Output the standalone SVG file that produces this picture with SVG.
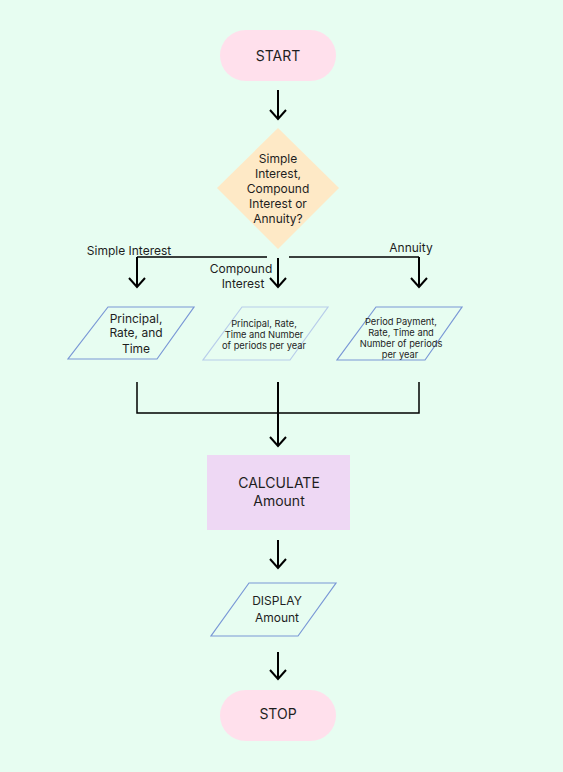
<svg xmlns="http://www.w3.org/2000/svg" width="563" height="772" viewBox="0 0 563 772">
<style>
text{font-family:Inter,"Liberation Sans",sans-serif;fill:#1e1e1e;text-anchor:middle}
.t14{font-size:14px}
.t12{font-size:12px}
.t9{font-size:9.3px}
.con{fill:none;stroke:#000;stroke-width:1.5}
.arr{fill:none;stroke:#000;stroke-width:2}
.io{fill:none;stroke:#7a98d6;stroke-width:1.2}
.io2{fill:none;stroke:#b8cdea;stroke-width:1.2}
</style>
<defs>
<marker id="ah" markerUnits="userSpaceOnUse" markerWidth="20" markerHeight="20" viewBox="-12 -10 14 20" refX="0" refY="0" orient="auto">
<path d="M-9,-8 L0,0 L-9,8" fill="none" stroke="#000" stroke-width="2"/>
</marker>
</defs>
<rect width="563" height="772" fill="#e7fdf1"/>
<g id="connectors">
<line class="arr" x1="278" y1="90" x2="278" y2="119" marker-end="url(#ah)"/>
<polyline class="con" points="267,257 137,257"/>
<line class="arr" x1="137" y1="257" x2="137" y2="287" marker-end="url(#ah)"/>
<line class="arr" x1="278" y1="258" x2="278" y2="287" marker-end="url(#ah)"/>
<polyline class="con" points="289,257 419,257"/>
<line class="arr" x1="419" y1="257" x2="419" y2="287" marker-end="url(#ah)"/>
<polyline class="con" points="137,382 137,413 419,413 419,382"/>
<line class="arr" x1="278" y1="382" x2="278" y2="446" marker-end="url(#ah)"/>
<line class="arr" x1="278" y1="540" x2="278" y2="568" marker-end="url(#ah)"/>
<line class="arr" x1="278" y1="652" x2="278" y2="679" marker-end="url(#ah)"/>
<text class="t12" x="129" y="255">Simple Interest</text>
<text class="t12" x="241" y="273">Compound</text>
<text class="t12" x="243" y="288">Interest</text>
<text class="t12" x="411" y="252">Annuity</text>
</g>
<g id="start">
<rect x="220" y="30" width="116" height="51" rx="25.5" fill="#ffe0ec"/>
<text class="t14" x="278" y="61">START</text>
</g>
<g id="decision">
<polygon points="278,128 339,188 278,249 217,188" fill="#fee9c6"/>
<text class="t12" x="278" y="163">Simple</text>
<text class="t12" x="278" y="178">Interest,</text>
<text class="t12" x="278" y="193">Compound</text>
<text class="t12" x="278" y="208">Interest or</text>
<text class="t12" x="278" y="223">Annuity?</text>
</g>
<g id="input-simple">
<polygon class="io" points="108,307 194,307 157,359 68,359"/>
<text class="t12" x="136" y="323">Principal,</text>
<text class="t12" x="136" y="337">Rate, and</text>
<text class="t12" x="136" y="353">Time</text>
</g>
<g id="input-compound">
<polygon class="io2" points="242,307 328,307 290,360 203,360"/>
<text class="t9" x="264" y="327">Principal, Rate,</text>
<text class="t9" x="264" y="338">Time and Number</text>
<text class="t9" x="264" y="349">of periods per year</text>
</g>
<g id="input-annuity">
<polygon class="io" points="376,307 462,307 425,360 337,360"/>
<text class="t9" x="401" y="325">Period Payment,</text>
<text class="t9" x="401" y="336">Rate, Time and</text>
<text class="t9" x="401" y="347">Number of periods</text>
<text class="t9" x="400" y="358">per year</text>
</g>
<g id="calculate">
<rect x="207" y="455" width="143" height="75" fill="#eed8f4"/>
<text class="t14" x="279" y="488">CALCULATE</text>
<text class="t14" x="279" y="506">Amount</text>
</g>
<g id="display">
<polygon class="io" points="249,583 336,583 298,636 211,636"/>
<text class="t12" x="277" y="605">DISPLAY</text>
<text class="t12" x="277" y="622">Amount</text>
</g>
<g id="stop">
<rect x="220" y="690" width="116" height="51" rx="25.5" fill="#ffe0ec"/>
<text class="t14" x="278" y="719">STOP</text>
</g>
</svg>
